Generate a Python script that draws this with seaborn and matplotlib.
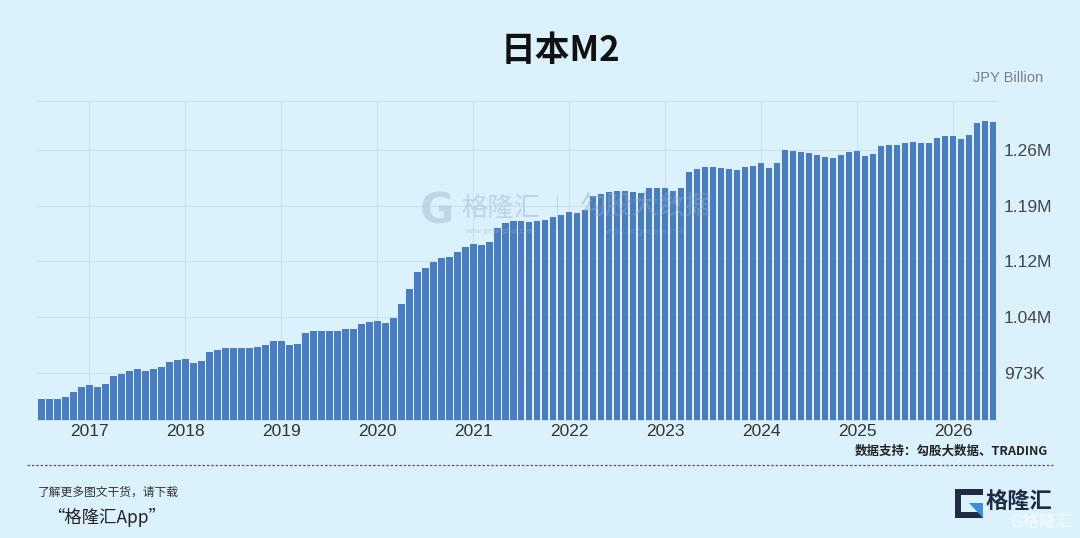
import numpy as np
import pandas as pd
import matplotlib
matplotlib.use("Agg")
import matplotlib.pyplot as plt
from matplotlib.lines import Line2D
from matplotlib.patches import Rectangle, Polygon
import seaborn as sns

# ---------------- data (JPY Billion, monthly, Jul 2016 - Jun 2026) ----------------
months = pd.date_range("2016-07-01", periods=120, freq="MS").strftime("%Y-%m").tolist()
m2_values = [
    939.6, 939.6, 939.6, 942.2, 947.8, 954.6, 957.6, 954.6, 958.9, 968.8,
    971.3, 975.6, 977.4, 975.6, 977.4, 979.9, 986.7, 989.7, 991.0, 985.1,
    988.0, 999.2, 1002.1, 1004.7, 1004.7, 1004.7, 1004.7, 1006.4, 1008.9, 1013.3,
    1013.3, 1008.9, 1010.2, 1024.3, 1026.9, 1026.9, 1026.9, 1026.9, 1028.7, 1028.7,
    1035.5, 1038.1, 1039.8, 1036.8, 1042.8, 1061.6, 1080.1, 1102.7, 1107.8, 1115.1,
    1120.2, 1121.9, 1128.3, 1134.0, 1138.6, 1137.3, 1141.2, 1158.7, 1164.8, 1167.7,
    1167.7, 1166.5, 1168.1, 1169.0, 1173.3, 1175.8, 1178.9, 1178.0, 1181.9, 1199.4,
    1202.4, 1205.0, 1206.6, 1206.6, 1205.3, 1204.1, 1210.5, 1210.5, 1210.5, 1206.6,
    1210.5, 1230.3, 1234.1, 1237.4, 1237.4, 1236.2, 1234.5, 1232.8, 1237.1, 1238.7,
    1241.8, 1236.2, 1241.8, 1258.5, 1257.2, 1255.9, 1254.6, 1252.8, 1250.3, 1248.6,
    1252.8, 1255.9, 1257.2, 1251.2, 1253.4, 1264.0, 1265.7, 1265.7, 1268.3, 1269.5,
    1268.3, 1268.3, 1274.7, 1276.9, 1276.9, 1272.6, 1277.7, 1293.2, 1295.7, 1294.4,
]
m2_values = [v * 1000 for v in m2_values]  # JPY Billion

year_labels = ["2017", "2018", "2019", "2020", "2021", "2022", "2023", "2024", "2025", "2026"]
y_tick_values = [973000, 1044500, 1116000, 1187500, 1259000]
y_tick_labels = ["973K", "1.04M", "1.12M", "1.19M", "1.26M"]

title = "日本M2"
unit_label = "JPY Billion"
source_text = "数据支持：勾股大数据、TRADING"

# ---------------- style ----------------
BG = "#dbf2fd"
BAR = "#4a7dbf"
GRID = "#cbe2ec"
LAT = "Liberation Sans"

sns.set_theme(style="white")
plt.rcParams["font.family"] = ["Noto Sans CJK SC", "DejaVu Sans"]

df = pd.DataFrame({"month": months, "value": m2_values})
df["idx"] = np.arange(len(df))

fig = plt.figure(figsize=(10.8, 5.38), dpi=100, facecolor=BG)
ax = fig.add_axes([36 / 1080, (538 - 420) / 538, (997 - 36) / 1080, (420 - 100.7) / 538])
ax.set_facecolor(BG)

sns.barplot(data=df, x="idx", y="value", color=BAR, width=0.86, saturation=1,
            ax=ax, zorder=3, linewidth=0)

ax.set_xlim(-0.64, 119.5)
ax.set_ylim(912300, 1322300)

jan_pos = [i for i, m in enumerate(months) if m.endswith("-01")]
ax.set_xticks(jan_pos)
ax.set_xticklabels(year_labels, fontsize=12.5, color="#333333", family=LAT)
ax.set_yticks(y_tick_values)
ax.set_yticklabels(y_tick_labels, fontsize=12.5, color="#444444", family=LAT)
ax.yaxis.tick_right()
ax.tick_params(axis="y", length=0, pad=5)
ax.tick_params(axis="x", length=0, pad=3)
ax.set_xlabel("")
ax.set_ylabel("")

ax.grid(True, color=GRID, linewidth=0.8, zorder=0)
for s in ["left", "right"]:
    ax.spines[s].set_visible(False)
for s in ["top", "bottom"]:
    ax.spines[s].set_color(GRID)
    ax.spines[s].set_linewidth(0.8)

# ---------------- texts ----------------
fig.text(560 / 1080, 1 - 50 / 538, title, ha="center", va="center",
         fontsize=25, fontweight="bold", color="#111111")
fig.text(1043 / 1080, 1 - 78 / 538, unit_label, ha="right", va="center",
         fontsize=10.5, color="#808080", family=LAT)

# watermark
fig.text(437 / 1080, 1 - 211 / 538, "G", ha="center", va="center", fontsize=30,
         fontweight="bold", color="#a3bccf", alpha=0.5, family="DejaVu Sans")
fig.text(501 / 1080, 1 - 208 / 538, "格隆汇", ha="center", va="center", fontsize=19,
         color="#a3bccf", alpha=0.55)
fig.add_artist(Line2D([557 / 1080, 557 / 1080], [1 - 195 / 538, 1 - 228 / 538],
                      transform=fig.transFigure, color="#a3bccf", alpha=0.45, linewidth=0.8))
fig.text(646 / 1080, 1 - 206 / 538, "勾股大数据", ha="center", va="center", fontsize=19,
         color="#8fa9c2", alpha=0.45)
fig.text(500 / 1080, 1 - 231 / 538, "www.gelonghui.com", ha="center", va="center",
         fontsize=5, color="#a3bccf", alpha=0.5, family="DejaVu Sans")
fig.text(646 / 1080, 1 - 231 / 538, "www.gogudata.com", ha="center", va="center",
         fontsize=6, color="#8fa9c2", alpha=0.4, family="DejaVu Sans")

fig.text(1048 / 1080, 1 - 451 / 538, source_text, ha="right", va="center",
         fontsize=9, fontweight="bold", color="#222222")

fig.add_artist(Line2D([27 / 1080, 1053 / 1080], [1 - 465 / 538, 1 - 465 / 538],
                      transform=fig.transFigure, color="#555555", linewidth=0.9,
                      linestyle=(0, (2, 1.5))))

fig.text(38 / 1080, 1 - 492 / 538, "了解更多图文干货，请下载", ha="left", va="center",
         fontsize=8.5, color="#333333")
fig.text(47 / 1080, 1 - 517 / 538, "“格隆汇App”", ha="left", va="center",
         fontsize=12.5, color="#222222")

# logo bottom right
fig.add_artist(Rectangle((955 / 1080, 1 - 518 / 538), 28 / 1080, 29 / 538,
                         transform=fig.transFigure, facecolor="#1f2d44", edgecolor="none"))
fig.add_artist(Rectangle((961 / 1080, 1 - 512 / 538), 22 / 1080, 17 / 538,
                         transform=fig.transFigure, facecolor=BG, edgecolor="none"))
fig.add_artist(Polygon([(969 / 1080, 1 - 503 / 538), (983 / 1080, 1 - 503 / 538),
                        (983 / 1080, 1 - 518 / 538)],
                       transform=fig.transFigure, facecolor="#3f8fd6", edgecolor="none"))
fig.text(1019 / 1080, 1 - 501 / 538, "格隆汇", ha="center", va="center", fontsize=16,
         fontweight="bold", color="#1f2d44")
fig.text(1042 / 1080, 1 - 522 / 538, "G格隆汇", ha="center", va="center", fontsize=12,
         color="#ffffff", alpha=0.8)

fig.savefig("out.png", dpi=100, facecolor=BG)
